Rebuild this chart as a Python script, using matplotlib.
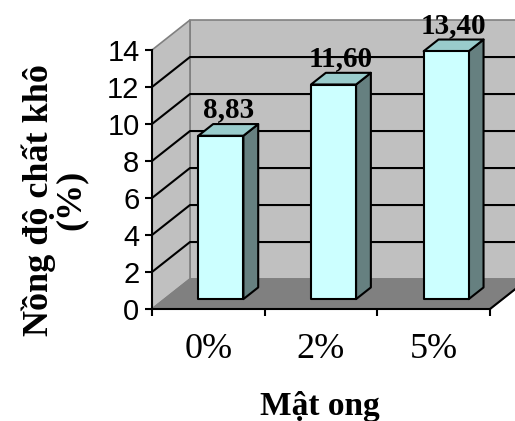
import matplotlib
matplotlib.use("Agg")
import matplotlib.pyplot as plt
from matplotlib.patches import Polygon

# data
categories = ["0%", "2%", "5%"]
values = [8.83, 11.60, 13.40]
value_labels = ["8,83", "11,60", "13,40"]
yticks = [0, 2, 4, 6, 8, 10, 12, 14]

# pseudo-3d look (in data units)
DX, DY = 0.337, 1.62      # depth offset of the back wall
F0, F1 = 0.33, 0.72        # front / back of each bar as a fraction of the depth
BAR_W = 0.40
YMAX = 14

fig = plt.figure(figsize=(5.15, 4.21), dpi=100)
ax = fig.add_axes([152 / 515, 1 - 309 / 421, 338 / 515, 259 / 421])
ax.set_xlim(0, len(categories))
ax.set_ylim(0, YMAX)
ax.patch.set_visible(False)

ncat = len(categories)
wall_kw = dict(clip_on=False, linewidth=1.2)

# back wall, side wall, floor
ax.add_patch(Polygon([(DX, DY), (ncat + DX, DY), (ncat + DX, YMAX + DY), (DX, YMAX + DY)],
                     facecolor="#c0c0c0", edgecolor="#808080", zorder=0, **wall_kw))
ax.add_patch(Polygon([(0, 0), (DX, DY), (DX, YMAX + DY), (0, YMAX)],
                     facecolor="#c0c0c0", edgecolor="#808080", zorder=0, **wall_kw))
ax.add_patch(Polygon([(0, 0), (ncat, 0), (ncat + DX, DY), (DX, DY)],
                     facecolor="#808080", edgecolor="#808080", zorder=1, **wall_kw))
ax.plot([ncat, ncat + DX], [0, DY], color="black", lw=1.5, clip_on=False, zorder=1)

# gridlines across side wall and back wall
for v in yticks[1:-1]:
    ax.plot([0, DX, ncat + DX], [v, v + DY, v + DY], color="black", lw=1.5,
            clip_on=False, zorder=1)

# bars
for i, v in enumerate(values):
    x0 = i + 0.5 - BAR_W / 2 + F0 * DX
    x1 = x0 + BAR_W
    y0 = F0 * DY
    ddx, ddy = (F1 - F0) * DX, (F1 - F0) * DY
    front = [(x0, y0), (x1, y0), (x1, y0 + v), (x0, y0 + v)]
    side = [(x1, y0), (x1 + ddx, y0 + ddy), (x1 + ddx, y0 + v + ddy), (x1, y0 + v)]
    top = [(x0, y0 + v), (x1, y0 + v), (x1 + ddx, y0 + v + ddy), (x0 + ddx, y0 + v + ddy)]
    for pts, col in ((side, "#668080"), (top, "#99cccc"), (front, "#ccffff")):
        ax.add_patch(Polygon(pts, facecolor=col, edgecolor="black", lw=1.5,
                             joinstyle="round", clip_on=False, zorder=3))
    ax.text((x0 + x1 + ddx) / 2, y0 + v + ddy + 0.78, value_labels[i],
            ha="center", va="center", fontsize=21, fontweight="bold",
            family="Liberation Serif", zorder=4, clip_on=False)

# axes: front left and bottom edges only
for s in ("top", "right"):
    ax.spines[s].set_visible(False)
for s in ("left", "bottom"):
    ax.spines[s].set_linewidth(1.5)
    ax.spines[s].set_zorder(5)

ax.set_yticks(yticks)
ax.set_yticklabels([str(t) for t in yticks], family="Liberation Sans", fontsize=21)
ax.tick_params(axis="y", direction="out", length=5, width=1.5, pad=4)

ax.set_xticks(range(ncat + 1))
ax.set_xticklabels([])
ax.set_xticks([i + 0.5 for i in range(ncat)], categories, minor=True)
ax.tick_params(axis="x", which="major", direction="out", length=5, width=1.5)
ax.tick_params(axis="x", which="minor", length=0, pad=17)
for lab in ax.get_xticklabels(minor=True):
    lab.set_family("Liberation Serif")
    lab.set_fontsize(26)

fig.text(320 / 515, 1 - 407 / 421, "Mật ong", ha="center", va="center",
         fontsize=24, fontweight="bold", family="Liberation Serif")
fig.text(55 / 515, 1 - 200 / 421, "Nồng độ chất khô\n(%)", rotation=90,
         ha="center", va="center", multialignment="center", linespacing=0.95,
         fontsize=26, fontweight="bold", family="Liberation Serif")

fig.savefig("out.png", dpi=100)
